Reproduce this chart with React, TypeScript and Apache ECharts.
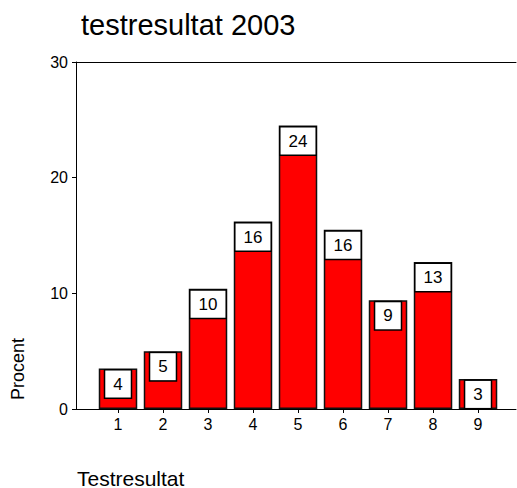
import React, { useEffect, useRef } from "react";
import * as echarts from "echarts";

const categories = ["1", "2", "3", "4", "5", "6", "7", "8", "9"];
const percentValues = [3.5, 5.0, 10.4, 16.2, 24.5, 15.5, 9.4, 12.7, 2.6];
const barLabels = ["4", "5", "10", "16", "24", "16", "9", "13", "3"];
const yTicks = [0, 10, 20, 30];

const FONT = "'Liberation Sans', Arial, sans-serif";

export default function App() {
  const ref = useRef<HTMLDivElement>(null);
  useEffect(() => {
    document.body.style.margin = "0";
    if (!ref.current) return;
    const chart = echarts.init(ref.current, null, { renderer: "svg" });
    const xVals = categories.map((_, i) => i + 1);
    chart.setOption({
      animation: false,
      backgroundColor: "#fff",
      textStyle: { fontFamily: FONT },
      title: {
        text: "testresultat 2003",
        left: 76,
        top: 5,
        textStyle: { fontFamily: FONT, fontSize: 29, fontWeight: "normal", color: "#000" },
      },
      grid: { left: 76, top: 62, width: 440, height: 347 },
      xAxis: [
        {
          type: "value",
          min: 0.0667,
          max: 9.844,
          splitLine: { show: false },
          axisLine: { show: true, onZero: false, lineStyle: { color: "#000", width: 1 } },
          axisTick: { show: true, length: 4, customValues: xVals, lineStyle: { color: "#000" } },
          axisLabel: {
            customValues: xVals,
            color: "#000",
            fontSize: 16,
            fontFamily: FONT,
            margin: 7,
            formatter: (v: number) => categories[Math.round(v) - 1] ?? "",
          },
        },
        {
          type: "value",
          position: "top",
          min: 0,
          max: 1,
          splitLine: { show: false },
          axisLine: { show: true, onZero: false, lineStyle: { color: "#000", width: 1 } },
          axisTick: { show: false },
          axisLabel: { show: false },
        },
      ],
      yAxis: {
        type: "value",
        min: 0,
        max: 30,
        interval: 10,
        splitLine: { show: false },
        axisLine: { show: true, lineStyle: { color: "#000", width: 1 } },
        axisTick: { show: true, length: 4, lineStyle: { color: "#000" } },
        axisLabel: {
          color: "#000",
          fontSize: 16,
          fontFamily: FONT,
          margin: 8,
          formatter: (v: number) => (yTicks.includes(v) ? String(v) : ""),
        },
      },
      graphic: [
        {
          type: "text",
          x: 18,
          y: 369,
          rotation: Math.PI / 2,
          style: {
            text: "Procent",
            fontSize: 18,
            fontFamily: FONT,
            fill: "#000",
            align: "center",
            verticalAlign: "middle",
          },
        },
        {
          type: "text",
          x: 77,
          y: 478,
          style: {
            text: "Testresultat",
            fontSize: 21,
            fontFamily: FONT,
            fill: "#000",
            align: "left",
            verticalAlign: "middle",
          },
        },
      ],
      series: [
        {
          type: "bar",
          xAxisIndex: 0,
          barWidth: 38.5,
          data: xVals.map((x, i) => [x, percentValues[i]]),
          itemStyle: { color: "#ff0000", borderColor: "#111", borderWidth: 1.5 },
          label: {
            show: true,
            position: "insideTop",
            distance: 2,
            formatter: (p: any) => barLabels[p.dataIndex],
            color: "#000",
            fontSize: 17,
            fontFamily: FONT,
            lineHeight: 19,
            backgroundColor: "#fff",
            borderColor: "#000",
            borderWidth: 1.5,
            padding: [4, 8],
          },
        },
      ],
    });
    return () => chart.dispose();
  }, []);
  return <div ref={ref} style={{ width: 517, height: 488 }} />;
}
